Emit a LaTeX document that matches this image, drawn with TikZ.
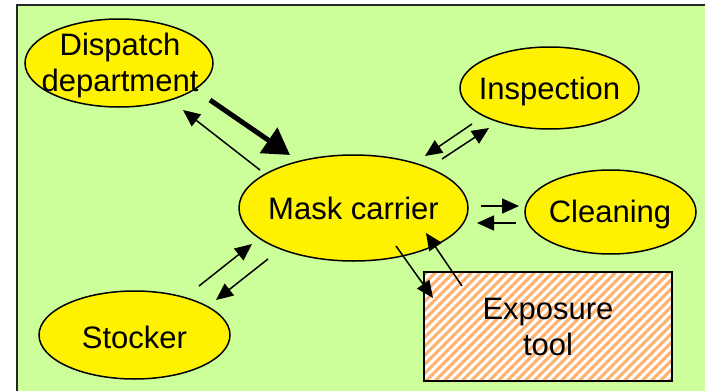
\documentclass[tikz,border=0pt]{standalone}
\usepackage{fontspec}
\setmainfont{Liberation Sans}
\usetikzlibrary{shapes.geometric,arrows.meta}
\definecolor{bggreen}{RGB}{204,255,153}
\definecolor{hatchcol}{RGB}{255,178,110}
\begin{document}
\begin{tikzpicture}[x=1pt,y=-1pt,
  blob/.style={ellipse,draw=black,line width=1.5pt,fill=yellow,inner sep=0pt},
  lbl/.style={font=\fontsize{31}{36}\selectfont,align=center,inner sep=0pt},
  flow/.style={line width=1.5pt,-{Triangle[length=17pt,width=15pt]}},
  bigflow/.style={line width=5pt,-{Triangle[length=26pt,width=30pt]}}]
\useasboundingbox (0,0) rectangle (705,391);
\clip (0,0) rectangle (705,391);
\fill[white] (0,0) rectangle (705,391);
\draw[fill=bggreen,line width=1.8pt,draw=black!85] (17,5) rectangle (730,420);

% ellipses
\node[blob,minimum width=188pt,minimum height=88pt] (disp) at (119,63) {};
\node[lbl] (disptxt) at (120,65.5) {Dispatch\\department};
\node[blob,minimum width=229pt,minimum height=106pt] (mask) at (353.5,208) {};
\node[lbl,anchor=base] (masktxt) at (353.5,219) {Mask carrier};
\node[blob,minimum width=179pt,minimum height=82pt] (insp) at (549.5,88) {};
\node[lbl,anchor=base] (insptxt) at (549.5,99) {Inspection};
\node[blob,minimum width=171pt,minimum height=84pt] (clean) at (610.5,212) {};
\node[lbl,anchor=base] (cleantxt) at (610,222) {Cleaning};
\node[blob,minimum width=191pt,minimum height=88pt] (stock) at (134.5,335) {};
\node[lbl,anchor=base] (stocktxt) at (134.5,348) {Stocker};

% exposure tool
\begin{scope}
\clip (424,272) rectangle (672,381);
\fill[white] (424,272) rectangle (672,381);
\foreach \k in {0,...,45} {
  \draw[hatchcol,line width=3pt] (300+\k*9,390) -- ++(130,-130);
}
\end{scope}
\node[draw=black,line width=2pt,minimum width=248pt,minimum height=109pt,inner sep=0pt] (expo) at (548,326.5) {};
\node[lbl] (expotxt) at (548,327) {Exposure\\tool};

% arrow end points
\coordinate (d1s) at (210,100); \coordinate (d1e) at (290,155);
\coordinate (d2s) at (260,170); \coordinate (d2e) at (183,110);
\coordinate (i1s) at (472,124); \coordinate (i1e) at (425,156);
\coordinate (i2s) at (442,159); \coordinate (i2e) at (489,128);
\coordinate (c1s) at (481,206); \coordinate (c1e) at (519,206);
\coordinate (c2s) at (516,223); \coordinate (c2e) at (477,223);
\coordinate (s1s) at (199,286); \coordinate (s1e) at (252,244);
\coordinate (s2s) at (268,259); \coordinate (s2e) at (216,300);
\coordinate (e1s) at (396,246); \coordinate (e1e) at (433,298);
\coordinate (e2s) at (462,286); \coordinate (e2e) at (426,233);

\draw[bigflow] (d1s) -- (d1e);
\draw[flow] (d2s) -- (d2e);
\draw[flow] (i1s) -- (i1e);
\draw[flow] (i2s) -- (i2e);
\draw[flow] (c1s) -- (c1e);
\draw[flow] (c2s) -- (c2e);
\draw[flow] (s1s) -- (s1e);
\draw[flow] (s2s) -- (s2e);
\draw[flow] (e1s) -- (e1e);
\draw[flow] (e2s) -- (e2e);
\end{tikzpicture}
\end{document}
